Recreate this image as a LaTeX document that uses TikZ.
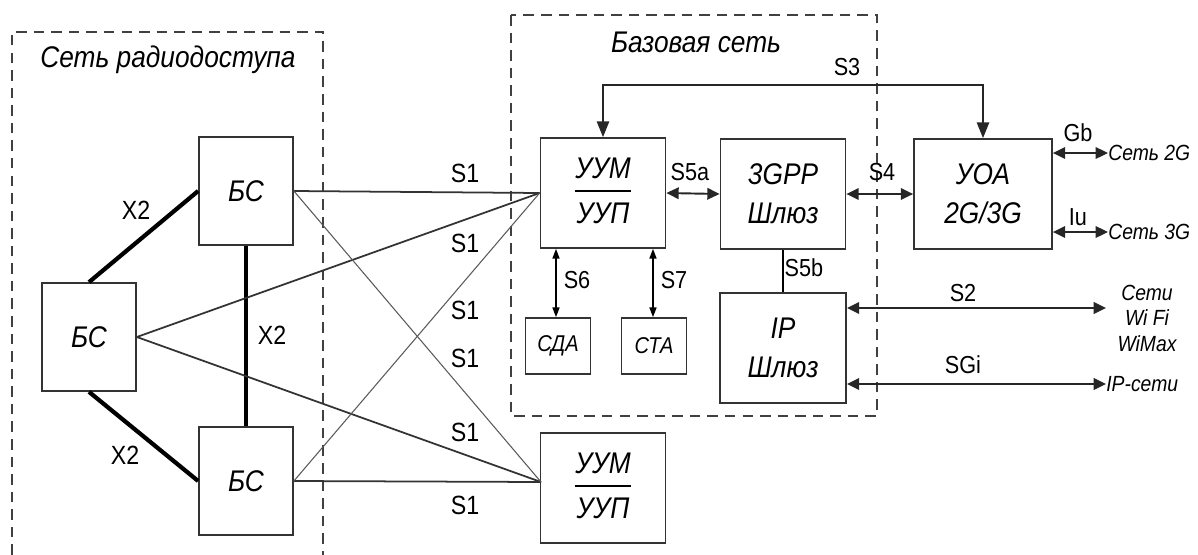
\documentclass[tikz,border=0pt]{standalone}
\usepackage{fontspec}
\setmainfont{Liberation Sans}[FakeStretch=0.88]
\usetikzlibrary{positioning, arrows.meta}
\setlength{\arrayrulewidth}{1pt}
\newcommand{\UM}{\begin{tabular}{@{}c@{}}УУМ\\\hline\rule{0pt}{18pt}УУП\end{tabular}}

\begin{document}
\begin{tikzpicture}[x=0.02cm, y=-0.02cm,
  box/.style={draw=black!80, line width=1pt, align=center, inner sep=0pt,
    font=\fontsize{17}{22}\selectfont\itshape},
  bs/.style={box, minimum width=1.88cm, minimum height=2.16cm},
  mm/.style={box, minimum width=2.5cm, minimum height=2.2cm},
  db/.style={box, minimum width=1.3cm, minimum height=1.12cm, font=\fontsize{13}{15}\selectfont\itshape},
  lbl/.style={inner sep=0pt, font=\fontsize{15}{17}\selectfont},
  ext/.style={inner sep=0pt, align=center, font=\fontsize{12.5}{14.5}\selectfont\itshape},
  grp/.style={dash pattern=on 6pt off 4pt, line width=0.9pt, black!75},
  s1/.style={line width=1pt, black!80},
  s1x/.style={line width=0.6pt, black!65},
  x2/.style={line width=2.4pt},
  tw/.style={{Triangle[length=7pt,width=6.5pt]}-{Triangle[length=7pt,width=6.5pt]}, line width=1.1pt, black!85},
  sm/.style={{Triangle[length=5.5pt,width=4pt]}-{Triangle[length=5.5pt,width=4pt]}, line width=0.8pt}]
  \useasboundingbox (0,0) rectangle (1198,555);

  \draw[grp] (12,555) |- (323,32) -- (323,555);
  \draw[grp] (511,15) rectangle (877,416);
  \node[font=\fontsize{17}{20}\selectfont\itshape] (ran) at (168,60) {Сеть радиодоступа};
  \node[font=\fontsize{17}{20}\selectfont\itshape] (core) at (696,42) {Базовая сеть};

  \node[bs] (bs1) at (246,191) {БС};
  \node[bs] (bs0) at (89,337) {БС};
  \node[bs] (bs2) at (246,481) {БС};
  \node[mm] (mm1) at (603,193) {\UM};
  \node[mm] (mm2) at (603,488) {\UM};
  \node[box, minimum width=2.5cm, minimum height=2.2cm] (gw) at (783,194) {3GPP\\Шлюз};
  \node[box, minimum width=2.76cm, minimum height=2.2cm] (uoa) at (983,194) {УОА\\2G/3G};
  \node[box, minimum width=2.52cm, minimum height=2.2cm] (ip) at (783,348) {IP\\Шлюз};
  \node[db] (sda) at (558,346) {СДА};
  \node[db] (sta) at (654,346) {СТА};

  \node[ext, anchor=west] (n2g) at (1108,153) {Сеть 2G};
  \node[ext, anchor=west] (n3g) at (1108,232) {Сеть 3G};
  \node[ext] (wifi) at (1147,318) {Сети\\Wi Fi\\WiMax};
  \node[ext, anchor=west] (ipn) at (1106,384) {IP-сети};
  \coordinate (s3) at (800,85);
  \coordinate (w2) at (1106,308);
  \coordinate (in2) at (541,482);

  \draw[x2] (bs1.west) -- (bs0.north);
  \draw[x2] (bs0.south) -- (bs2.west);
  \draw[x2] (bs1.south) -- (bs2.north);

  \draw[s1] (bs1.east) -- (mm1.west);
  \draw[s1] (bs0.east) -- (mm1.west);
  \draw[s1] (bs0.east) -- (in2);
  \draw[s1] (bs2.east) -- (in2);
  \draw[s1x] (bs1.east) -- (in2);
  \draw[s1x] (bs2.east) -- (mm1.west);

  \draw[tw, {Triangle[length=9pt,width=7pt]}-{Triangle[length=9pt,width=7pt]}] (mm1.north) |- (s3) -| (uoa.north);
  \draw[tw] (mm1.east) -- (gw.west);
  \draw[tw] (gw.east) -- (uoa.west);
  \draw[line width=0.8pt] (gw.south) -- (ip.north);
  \draw[sm] (sda.north -| 556,0) -- (mm1.south -| 556,0);
  \draw[sm] (sta.north -| 653,0) -- (mm1.south -| 653,0);
  \draw[tw] (n2g.west -| uoa.east) -- (n2g.west);
  \draw[tw] (n3g.west -| uoa.east) -- (n3g.west);
  \draw[tw, line width=1.3pt] (w2 -| ip.east) -- (w2);
  \draw[tw, line width=1.3pt] (ipn.west -| ip.east) -- (ipn.west);

  \node[lbl] (l1) at (465,173) {S1};
  \node[lbl] (l2) at (465,243) {S1};
  \node[lbl] (l3) at (465,310) {S1};
  \node[lbl] (l4) at (465,358) {S1};
  \node[lbl] (l5) at (465,432) {S1};
  \node[lbl] (l6) at (465,505) {S1};
  \node[lbl] (x2a) at (136,210) {X2};
  \node[lbl] (x2b) at (272,335) {X2};
  \node[lbl] (x2c) at (125,455) {X2};
  \node[lbl, font=\fontsize{14}{16}\selectfont] (l3s) at (847,67) {S3};
  \node[lbl, font=\fontsize{14}{16}\selectfont] (l5a) at (690,172) {S5a};
  \node[lbl, font=\fontsize{14}{16}\selectfont] (l4s) at (882,172) {S4};
  \node[lbl, font=\fontsize{14}{16}\selectfont] (l5b) at (804,268) {S5b};
  \node[lbl, font=\fontsize{14}{16}\selectfont] (l6s) at (577,280) {S6};
  \node[lbl, font=\fontsize{14}{16}\selectfont] (l7s) at (674,280) {S7};
  \node[lbl, font=\fontsize{14}{16}\selectfont] (lgb) at (1078,133) {Gb};
  \node[lbl, font=\fontsize{14}{16}\selectfont] (liu) at (1078,217) {Iu};
  \node[lbl, font=\fontsize{14}{16}\selectfont] (ls2) at (963,293) {S2};
  \node[lbl, font=\fontsize{14}{16}\selectfont] (lsg) at (963,365) {SGi};
\end{tikzpicture}
\end{document}
